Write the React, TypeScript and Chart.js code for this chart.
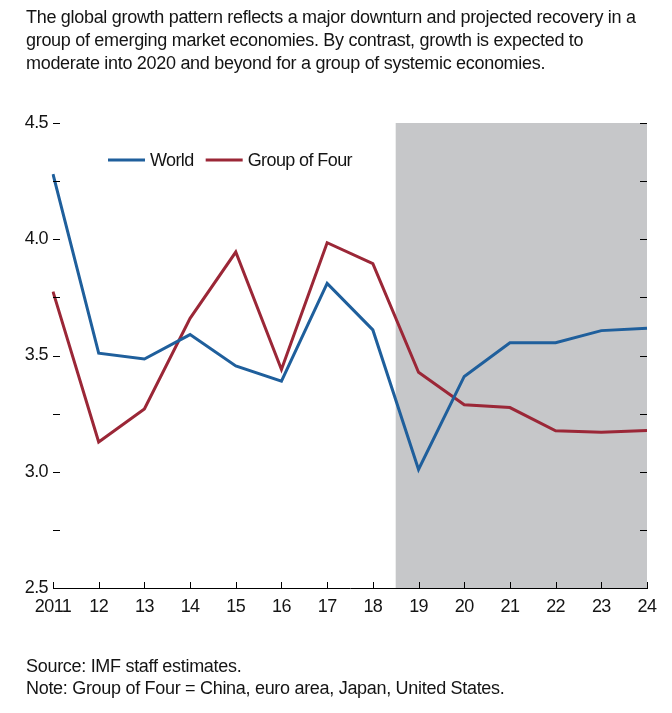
import React, { useEffect, useRef } from "react";
import { Chart, registerables } from "chart.js";

Chart.register(...registerables);

const categories = ["2011", "12", "13", "14", "15", "16", "17", "18", "19", "20", "21", "22", "23", "24"];
const worldValues = [4.28, 3.51, 3.485, 3.59, 3.455, 3.39, 3.81, 3.61, 3.01, 3.41, 3.555, 3.555, 3.607, 3.617];
const groupOfFourValues = [3.775, 3.128, 3.27, 3.66, 3.945, 3.44, 3.985, 3.895, 3.428, 3.288, 3.276, 3.176, 3.17, 3.177];
const yTickValues = [2.5, 2.75, 3.0, 3.25, 3.5, 3.75, 4.0, 4.25, 4.5];
const projectionStart = 7.5; // between 2018 and 2019

const seriesNames = ["World", "Group of Four"];
const seriesColors = ["#1f5f9c", "#9b2737"];

const FONT = "'Liberation Sans', Arial, sans-serif";
const TEXT_COLOR = "#141414";

const decorPlugin = {
  id: "decor",
  beforeDraw(chart: any) {
    // slightly condensed text to mimic the original narrow typeface
    (chart.ctx as any).letterSpacing = "-0.6px";
  },
  beforeDatasetsDraw(chart: any) {
    const { ctx, chartArea, scales } = chart;
    const x = scales.x;
    const xStart = x.getPixelForValue(projectionStart);
    ctx.save();
    ctx.fillStyle = "#c6c7c9";
    ctx.fillRect(xStart, chartArea.top, chartArea.right - xStart, chartArea.bottom - chartArea.top);
    ctx.restore();
  },
  afterDatasetsDraw(chart: any) {
    const { ctx, chartArea, scales } = chart;
    const x = scales.x;
    const y = scales.y;
    ctx.save();
    ctx.strokeStyle = "#000";
    ctx.lineWidth = 1;
    ctx.beginPath();
    yTickValues.forEach((v) => {
      const py = Math.round(y.getPixelForValue(v)) + 0.5;
      ctx.moveTo(chartArea.left, py);
      ctx.lineTo(chartArea.left + 7, py);
      ctx.moveTo(chartArea.right - 7, py);
      ctx.lineTo(chartArea.right, py);
    });
    categories.forEach((_, i) => {
      const px = Math.round(x.getPixelForValue(i)) + 0.5;
      ctx.moveTo(px, chartArea.bottom);
      ctx.lineTo(px, chartArea.bottom - 6);
    });
    ctx.stroke();

    // legend
    const ly = chartArea.top + 37;
    const lx = chartArea.left + 55;
    ctx.font = `18px ${FONT}`;
    (ctx as any).letterSpacing = "-0.6px";
    ctx.textBaseline = "middle";
    ctx.textAlign = "left";
    let cx = lx;
    seriesNames.forEach((name, i) => {
      ctx.strokeStyle = seriesColors[i];
      ctx.lineWidth = 3;
      ctx.beginPath();
      ctx.moveTo(cx, ly);
      ctx.lineTo(cx + 37, ly);
      ctx.stroke();
      ctx.fillStyle = TEXT_COLOR;
      ctx.fillText(name, cx + 42, ly + 1);
      cx += 42 + ctx.measureText(name).width + 12;
    });
    ctx.restore();
  },
};

export default function App() {
  const canvasRef = useRef<HTMLCanvasElement | null>(null);

  useEffect(() => {
    document.body.style.margin = "0";
    const canvas = canvasRef.current;
    if (!canvas) return;
    const chart = new Chart(canvas, {
      type: "line",
      data: {
        labels: categories,
        datasets: [
          {
            label: seriesNames[0],
            data: worldValues,
            borderColor: seriesColors[0],
            borderWidth: 3,
            pointRadius: 0,
            tension: 0,
            fill: false,
          },
          {
            label: seriesNames[1],
            data: groupOfFourValues,
            borderColor: seriesColors[1],
            borderWidth: 3,
            pointRadius: 0,
            tension: 0,
            fill: false,
          },
        ],
      },
      options: {
        responsive: false,
        animation: false,
        layout: { padding: { left: 0, right: 25, top: 123, bottom: 85 } },
        plugins: { legend: { display: false }, tooltip: { enabled: false }, title: { display: false } },
        scales: {
          x: {
            type: "category",
            offset: false,
            grid: { display: false, drawTicks: false },
            border: { display: true, color: "#000", width: 1 },
            ticks: {
              color: TEXT_COLOR,
              font: { family: FONT, size: 18 },
              padding: 8,
              maxRotation: 0,
              autoSkip: false,
            },
            afterFit(scale: any) {
              scale.height = 40;
            },
          },
          y: {
            min: 2.5,
            max: 4.5,
            grid: { display: false, drawTicks: false },
            border: { display: false },
            ticks: {
              stepSize: 0.5,
              color: TEXT_COLOR,
              font: { family: FONT, size: 18 },
              padding: 5,
              callback: (v: any) => Number(v).toFixed(1),
            },
            afterFit(scale: any) {
              scale.width = 53;
            },
          },
        },
      },
      plugins: [decorPlugin],
    });
    return () => chart.destroy();
  }, []);

  const textStyle: React.CSSProperties = {
    position: "absolute",
    left: 26,
    fontFamily: FONT,
    fontSize: 18,
    color: TEXT_COLOR,
    lineHeight: "23px",
    letterSpacing: "-0.3px",
    margin: 0,
    whiteSpace: "nowrap",
  };

  return (
    <div style={{ position: "relative", width: 672, height: 713, background: "#fff", overflow: "hidden" }}>
      <canvas ref={canvasRef} width={672} height={713} style={{ position: "absolute", left: 0, top: 0, width: 672, height: 713 }} />
      <div style={{ ...textStyle, top: 6 }}>
        The global growth pattern reflects a major downturn and projected recovery in a
        <br />
        group of emerging market economies. By contrast, growth is expected to
        <br />
        moderate into 2020 and beyond for a group of systemic economies.
      </div>
      <div style={{ ...textStyle, top: 655, lineHeight: "22px" }}>
        Source: IMF staff estimates.
        <br />
        Note: Group of Four = China, euro area, Japan, United States.
      </div>
    </div>
  );
}
